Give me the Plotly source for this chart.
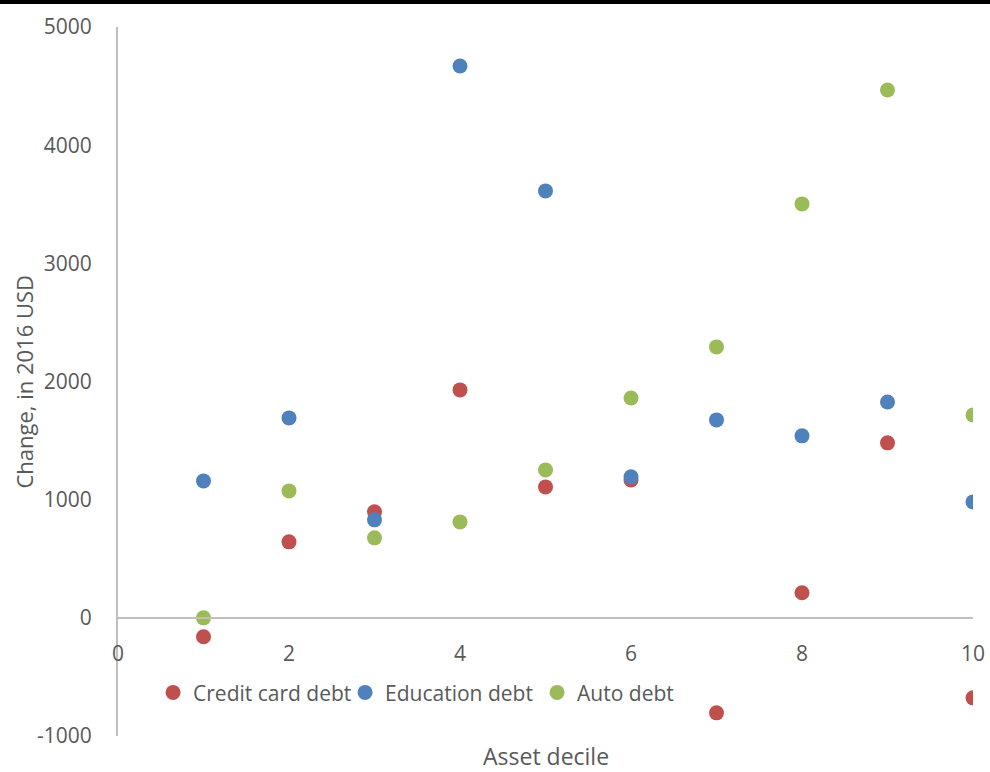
import plotly.graph_objects as go

deciles = [1, 2, 3, 4, 5, 6, 7, 8, 9, 10]
credit_card = [-160, 643, 897, 1929, 1108, 1167, -804, 212, 1481, -677]
education = [1159, 1692, 829, 4670, 3613, 1193, 1675, 1540, 1827, 981]
auto = [0, 1074, 677, 812, 1252, 1861, 2293, 3503, 4467, 1717]

series = [
    ("Credit card debt", credit_card, "#C0504D"),
    ("Education debt", education, "#4F81BD"),
    ("Auto debt", auto, "#9BBB59"),
]

x_ticks = [0, 2, 4, 6, 8, 10]
y_ticks = [-1000, 0, 1000, 2000, 3000, 4000, 5000]

FONT = "Open Sans"
GREY = "#595959"
AXIS = "#BFBFBF"

fig = go.Figure()
for name, vals, color in series:
    fig.add_trace(go.Scatter(
        x=deciles, y=vals, mode="markers", name=name,
        marker=dict(size=15, color=color, line=dict(width=0)),
    ))

y_min, y_max = -1000, 5000
zero_pos = (0 - y_min) / (y_max - y_min)

fig.update_layout(
    width=990, height=772,
    margin=dict(l=118, r=17, t=27, b=36, autoexpand=False),
    plot_bgcolor="white", paper_bgcolor="white",
    font=dict(family=FONT, size=21, color=GREY),
    showlegend=True,
    legend=dict(
        orientation="h", x=0.041, y=0.061, xanchor="left", yanchor="middle",
        font=dict(family=FONT, size=21, color=GREY),
        itemwidth=30, bgcolor="rgba(0,0,0,0)", tracegroupgap=0,
        entrywidthmode="pixels", entrywidth=147,
    ),
    xaxis=dict(
        range=[0, 10], tickvals=x_ticks, ticktext=[str(v) for v in x_ticks],
        showgrid=False, zeroline=False, automargin=False,
        showline=True, linecolor=AXIS, linewidth=2,
        anchor="free", position=zero_pos,
        ticks="outside", ticklen=17, tickcolor="rgba(0,0,0,0)",
        tickfont=dict(family=FONT, size=21, color=GREY),
    ),
    yaxis=dict(
        range=[y_min, y_max], tickvals=y_ticks, ticktext=[str(v) for v in y_ticks],
        showgrid=False, zeroline=False, automargin=False,
        showline=True, linecolor=AXIS, linewidth=2,
        ticks="outside", ticklen=20, tickcolor="rgba(0,0,0,0)",
        tickfont=dict(family=FONT, size=21, color=GREY),
    ),
    shapes=[
        dict(type="rect", xref="paper", yref="paper",
             x0=-0.2, x1=1.1, y0=1 + 23 / 709, y1=1 + 40 / 709,
             fillcolor="black", line=dict(width=0), layer="above"),
    ],
    annotations=[
        dict(text="Change, in 2016 USD", xref="paper", yref="paper",
             x=-0.111, y=0.5, textangle=-90, showarrow=False,
             xanchor="center", yanchor="middle",
             font=dict(family=FONT, size=22, color=GREY)),
        dict(text="Asset decile", xref="paper", yref="paper",
             x=0.5, y=-0.028, showarrow=False,
             xanchor="center", yanchor="middle",
             font=dict(family=FONT, size=23, color=GREY)),
    ],
)

fig.write_html("out.html")
